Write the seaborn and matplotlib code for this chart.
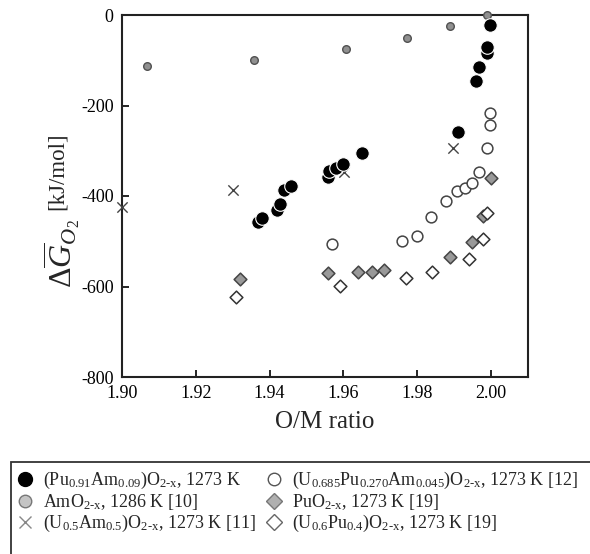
import matplotlib
matplotlib.use("Agg")
import matplotlib.pyplot as plt
import seaborn as sns
import pandas as pd
from matplotlib.lines import Line2D
from matplotlib.patches import Rectangle

# ---- data ----
puam_x = [1.9368, 1.9379, 1.9419, 1.9428, 1.9439, 1.9459, 1.9558, 1.9560, 1.9581, 1.9599, 1.9649,
          1.9910, 1.9958, 1.9968, 1.9989, 1.9989, 1.9998]
puam_y = [-458, -448, -432, -418, -387, -379, -357, -344, -339, -330, -306,
          -258, -145, -114, -85, -70, -22]

amo2_x = [1.9069, 1.9358, 1.9608, 1.9773, 1.9889, 1.9989]
amo2_y = [-112, -99, -75, -50, -24, 0]

uam_x = [1.9000, 1.9300, 1.9601, 1.9898]
uam_y = [-424, -387, -346, -295]

upuam_x = [1.9568, 1.9759, 1.9799, 1.9838, 1.9878, 1.9908, 1.9928, 1.9948, 1.9968, 1.9988, 1.9998, 1.9998]
upuam_y = [-507, -500, -488, -446, -411, -390, -382, -372, -348, -295, -244, -217]

puo2_x = [1.9320, 1.9559, 1.9639, 1.9678, 1.9709, 1.9889, 1.9949, 1.9977, 2.0000]
puo2_y = [-584, -571, -569, -568, -564, -535, -502, -444, -361]

upu_x = [1.9309, 1.9590, 1.9770, 1.9839, 1.9939, 1.9979, 1.9989]
upu_y = [-624, -599, -582, -569, -540, -495, -438]

labels = [
    r"(Pu$_{0.91}$Am$_{0.09}$)O$_{\text{2-x}}$, 1273 K",
    r"AmO$_{\text{2-x}}$, 1286 K [10]",
    r"(U$_{0.5}$Am$_{0.5}$)O$_{\text{2-x}}$, 1273 K [11]",
    r"(U$_{0.685}$Pu$_{0.270}$Am$_{0.045}$)O$_{\text{2-x}}$, 1273 K [12]",
    r"PuO$_{\text{2-x}}$, 1273 K [19]",
    r"(U$_{0.6}$Pu$_{0.4}$)O$_{\text{2-x}}$, 1273 K [19]",
]

x_ticks = [1.90, 1.92, 1.94, 1.96, 1.98, 2.00]
y_ticks = [-800, -600, -400, -200, 0]

sns.set_theme(style="white")
plt.rcParams["font.family"] = ["Liberation Serif", "DejaVu Serif"]
plt.rcParams["mathtext.fontset"] = "custom"
plt.rcParams["mathtext.rm"] = "Liberation Serif"
plt.rcParams["mathtext.it"] = "Liberation Serif:italic"
plt.rcParams["mathtext.bf"] = "Liberation Serif:bold"
plt.rcParams["axes.unicode_minus"] = False

W, H = 590, 554
fig = plt.figure(figsize=(W / 100, H / 100), dpi=100)
ax = fig.add_axes([122 / W, 1 - 377 / H, (528 - 122) / W, (377 - 15) / H])

series = [
    (puam_x, puam_y, dict(marker="o", s=95, color="black", edgecolor="white", linewidth=0.8)),
    (amo2_x, amo2_y, dict(marker="o", s=30, color="#909090", edgecolor="#505050", linewidth=1.0)),
    (uam_x, uam_y, dict(marker="x", s=55, color="#444444", linewidth=1.0)),
    (upuam_x, upuam_y, dict(marker="o", s=60, color="white", edgecolor="#444444", linewidth=1.1)),
    (puo2_x, puo2_y, dict(marker="D", s=42, color="#999999", edgecolor="#444444", linewidth=1.1)),
    (upu_x, upu_y, dict(marker="D", s=42, color="white", edgecolor="#333333", linewidth=1.1)),
]
order = [4, 5, 3, 1, 2, 0]  # drawing order (black on top)
for i in order:
    xs, ys, kw = series[i]
    df = pd.DataFrame({"x": xs, "y": ys})
    sns.scatterplot(data=df, x="x", y="y", ax=ax, legend=False, clip_on=False,
                    zorder=3 + (i == 0), **kw)

ax.set_xlim(1.90, 2.01)
ax.set_ylim(-800, 0)
ax.set_xticks(x_ticks)
ax.set_xticklabels([f"{v:.2f}" for v in x_ticks])
ax.set_yticks(y_ticks)
ax.set_yticklabels([str(v) for v in y_ticks])
ax.tick_params(direction="in", length=5, width=1.2, labelsize=13, colors="black", pad=6,
               bottom=True, left=True)
for sp in ax.spines.values():
    sp.set_color("#222222")
    sp.set_linewidth(1.5)
ax.set_xlabel("O/M ratio", fontsize=18, labelpad=6)
ax.set_ylabel("")

fig.text(62 / W, 1 - 253 / H, r"$\Delta\overline{G}_{O_2}$", rotation=90, fontsize=23,
         ha="center", va="center")
fig.text(57 / W, 1 - 171 / H, "[kJ/mol]", rotation=90, fontsize=16.5, ha="center", va="center")

# legend handles (styled like the reference legend)
leg_handles = [
    Line2D([], [], ls="", marker="o", ms=10, mfc="black", mec="black"),
    Line2D([], [], ls="", marker="o", ms=9, mfc="#c4c4c4", mec="#777777", mew=1.0),
    Line2D([], [], ls="", marker="x", ms=9, color="#888888", mew=1.0),
    Line2D([], [], ls="", marker="o", ms=9, mfc="white", mec="#555555", mew=1.0),
    Line2D([], [], ls="", marker="D", ms=8.5, mfc="#b0b0b0", mec="#777777", mew=1.0),
    Line2D([], [], ls="", marker="D", ms=8.5, mfc="white", mec="#666666", mew=1.0),
]

fs = 13
fs_px = fs * 100 / 72
hl = 1.0
anchor_x = 25 - hl * fs_px / 2
leg = fig.legend(leg_handles, labels, loc="upper left",
                 bbox_to_anchor=(anchor_x / W, 1 - 470 / H), ncol=2, fontsize=fs,
                 frameon=False, borderpad=0, borderaxespad=0,
                 handletextpad=0.5, columnspacing=0.5, labelspacing=0.05, handlelength=hl)

fig.patches.append(Rectangle((11 / W, -0.05), 1.0, 1 - 462 / H + 0.05, transform=fig.transFigure,
                             fill=False, edgecolor="#333333", linewidth=1.3))

fig.savefig("out.png", dpi=100)
